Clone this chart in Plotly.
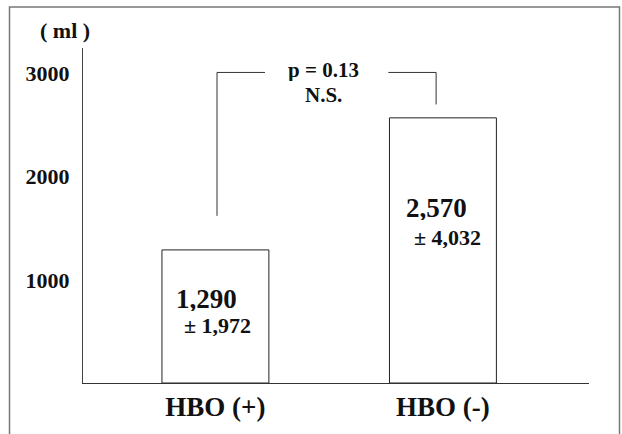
import plotly.graph_objects as go

categories = ["HBO (+)", "HBO (-)"]
means = [1290, 2570]
sds = [1972, 4032]
mean_labels = ["1,290", "2,570"]
sd_labels = ["± 1,972", "± 4,032"]
y_ticks = [1000, 2000, 3000]
p_text = "p = 0.13"
ns_text = "N.S."
unit_text = "( ml )"

FONT = "Liberation Serif, Times New Roman, serif"
xpos = [0, 1]

fig = go.Figure()
fig.add_trace(go.Bar(
    x=xpos, y=means, width=0.47,
    marker=dict(color="white", line=dict(color="#222", width=1)),
    hoverinfo="skip", showlegend=False,
))

# value labels inside bars
fig.add_annotation(x=xpos[0] - 0.04, y=822, text=f"<b>{mean_labels[0]}</b>",
                   showarrow=False, font=dict(family=FONT, size=27, color="#111"),
                   height=25, xanchor="center", yanchor="middle")
fig.add_annotation(x=xpos[0] + 0.007, y=560, text=f"<b>{sd_labels[0]}</b>",
                   showarrow=False, font=dict(family=FONT, size=22, color="#111"),
                   height=21, xanchor="center", yanchor="middle")
fig.add_annotation(x=xpos[1] - 0.03, y=1700, text=f"<b>{mean_labels[1]}</b>",
                   showarrow=False, font=dict(family=FONT, size=27, color="#111"),
                   height=25, xanchor="center", yanchor="middle")
fig.add_annotation(x=xpos[1] + 0.022, y=1414, text=f"<b>{sd_labels[1]}</b>",
                   showarrow=False, font=dict(family=FONT, size=22, color="#111"),
                   height=21, xanchor="center", yanchor="middle")

# significance bracket
line = dict(color="#333", width=1)
fig.add_shape(type="line", x0=0.007, x1=0.007, y0=1620, y1=3010, line=line)
fig.add_shape(type="line", x0=0.007, x1=0.218, y0=3010, y1=3010, line=line)
fig.add_shape(type="line", x0=0.76, x1=0.97, y0=3010, y1=3010, line=line)
fig.add_shape(type="line", x0=0.97, x1=0.97, y0=3010, y1=2700, line=line)
fig.add_annotation(x=0.474, y=3038, text=f"<b>{p_text}</b>", showarrow=False,
                   font=dict(family=FONT, size=21, color="#111"), height=22,
                   xanchor="center", yanchor="middle")
fig.add_annotation(x=0.474, y=2796, text=f"<b>{ns_text}</b>", showarrow=False,
                   font=dict(family=FONT, size=21, color="#111"), height=22,
                   xanchor="center", yanchor="middle")

# unit label
fig.add_annotation(xref="paper", yref="paper", x=(65 - 83) / 506, y=(388 - 30) / 340,
                   text=f"<b>{unit_text}</b>", showarrow=False,
                   font=dict(family=FONT, size=22, color="#111"),
                   xanchor="center", yanchor="middle")

# outer frame
fig.add_shape(type="rect", xref="paper", yref="paper",
              x0=(9.5 - 83) / 506, x1=(619.5 - 83) / 506,
              y0=-0.3, y1=(388 - 6.5) / 340,
              line=dict(color="#777", width=1.5), fillcolor="rgba(0,0,0,0)")

fig.update_layout(
    width=622, height=434,
    margin=dict(l=83, r=33, t=48, b=46),
    paper_bgcolor="white", plot_bgcolor="white",
    font=dict(family=FONT, color="#111"),
    xaxis=dict(range=[-0.582, 1.642], tickvals=xpos,
               ticktext=[f"<b>{c}</b>" for c in categories],
               tickfont=dict(family=FONT, size=27, color="#111"),
               showline=True, linecolor="#333", linewidth=1,
               showgrid=False, zeroline=False, ticks="", ticklabelstandoff=0),
    yaxis=dict(range=[0, 3247], tickvals=y_ticks,
               ticktext=[f"<b>{v}</b>" for v in y_ticks],
               tickfont=dict(family=FONT, size=22, color="#111"),
               showline=True, linecolor="#444", linewidth=1,
               showgrid=False, zeroline=False, ticks="", ticklabelstandoff=8),
)

fig.write_html("out.html", config={"displayModeBar": False},
               post_script="document.body.style.margin='0';")
